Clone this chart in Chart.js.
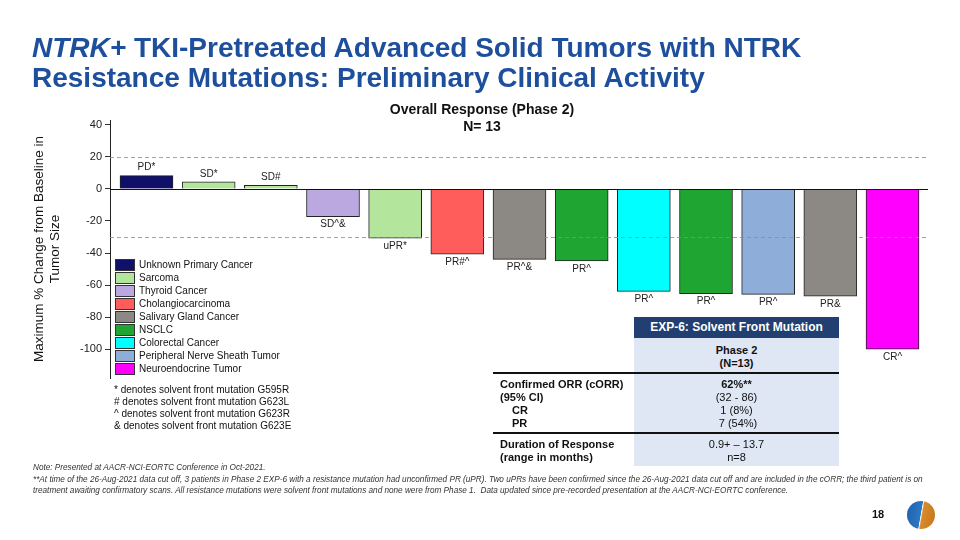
<!DOCTYPE html>
<html>
<head>
<meta charset="utf-8">
<script src="https://cdn.jsdelivr.net/npm/chart.js@4.4.1/dist/chart.umd.min.js"></script>
<style>
  body { margin: 0; background: #fff; }
  #wrap { position: relative; width: 960px; height: 540px; overflow: hidden; font-family: "Liberation Sans", Arial, sans-serif; color: #111; }
  #myChart { position: absolute; left: 0; top: 0; }
  .t { position: absolute; white-space: nowrap; }
  .title { left: 32px; font-size: 28px; font-weight: bold; color: #1d4f9c; line-height: 30px; }
  .sub { left: 0; width: 964px; text-align: center; font-size: 14px; font-weight: bold; line-height: 16px; }
  .foot { left: 114px; font-size: 10px; line-height: 12px; color: #111; }
  .tb { font-size: 11px; line-height: 13px; }
  .b { font-weight: bold; }
  .c { text-align: center; width: 205px; left: 634px; }
  .note { left: 33px; font-size: 8.2px; font-style: italic; line-height: 11px; color: #333; }
</style>
</head>
<body>
<div id="wrap">
  <canvas id="myChart" width="960" height="540"></canvas>

  <div class="t title" style="top:33px"><i>NTRK+</i> TKI-Pretreated Advanced Solid Tumors with NTRK</div>
  <div class="t title" style="top:63px">Resistance Mutations: Preliminary Clinical Activity</div>

  <div class="t sub" style="top:101px">Overall Response (Phase 2)</div>
  <div class="t sub" style="top:118px">N= 13</div>

  <div class="t foot" style="top:384px">* denotes solvent front mutation G595R</div>
  <div class="t foot" style="top:396px"># denotes solvent front mutation G623L</div>
  <div class="t foot" style="top:408px">^ denotes solvent front mutation G623R</div>
  <div class="t foot" style="top:420px">&amp; denotes solvent front mutation G623E</div>

  <!-- tabelle EXP-6 -->
  <div style="position:absolute;left:634px;top:317px;width:205px;height:21px;background:#213f70;"></div>
  <div class="t c b" style="top:320px;color:#fff;font-size:12px;line-height:15px;">EXP-6: Solvent Front Mutation</div>
  <div style="position:absolute;left:634px;top:338px;width:205px;height:128px;background:#dfe7f5;"></div>
  <div class="t c b tb" style="top:344px">Phase 2</div>
  <div class="t c b tb" style="top:357px">(N=13)</div>
  <div style="position:absolute;left:493px;top:372px;width:346px;height:1.5px;background:#111;"></div>
  <div class="t tb b" style="left:500px;top:378px">Confirmed ORR (cORR)</div>
  <div class="t tb b" style="left:500px;top:391px">(95% CI)</div>
  <div class="t tb b" style="left:512px;top:404px">CR</div>
  <div class="t tb b" style="left:512px;top:417px">PR</div>
  <div class="t c tb b" style="top:378px">62%**</div>
  <div class="t c tb" style="top:391px">(32 - 86)</div>
  <div class="t c tb" style="top:404px">1 (8%)</div>
  <div class="t c tb" style="top:417px">&nbsp;7 (54%)</div>
  <div style="position:absolute;left:493px;top:432px;width:346px;height:1.5px;background:#111;"></div>
  <div class="t tb b" style="left:500px;top:438px">Duration of Response</div>
  <div class="t tb b" style="left:500px;top:451px">(range in months)</div>
  <div class="t c tb" style="top:438px">0.9+ – 13.7</div>
  <div class="t c tb" style="top:451px">n=8</div>

  <div class="t note" style="top:462px">Note: Presented at AACR-NCI-EORTC Conference in Oct-2021.</div>
  <div class="t note" style="top:474px">**At time of the 26-Aug-2021 data cut off, 3 patients in Phase 2 EXP-6 with a resistance mutation had unconfirmed PR (uPR). Two uPRs have been confirmed since the 26-Aug-2021 data cut off and are included in the cORR; the third patient is on</div>
  <div class="t note" style="top:485px">treatment awaiting confirmatory scans. All resistance mutations were solvent front mutations and none were from Phase 1.&nbsp; Data updated since pre-recorded presentation at the AACR-NCI-EORTC conference.</div>

  <div class="t b" style="left:872px;top:507px;font-size:11px;line-height:14px;">18</div>
  <div style="position:absolute;left:907px;top:501px;width:28px;height:28px;border-radius:50%;background:linear-gradient(100deg,#1f5fae 0%,#2b78c4 48%,#fff 50%,#d98a2b 54%,#c4761c 100%);"></div>
</div>

<script>
// tumor types (legende)
var tumorTypes = ['Unknown Primary Cancer', 'Sarcoma', 'Thyroid Cancer', 'Cholangiocarcinoma', 'Salivary Gland Cancer', 'NSCLC', 'Colorectal Cancer', 'Peripheral Nerve Sheath Tumor', 'Neuroendocrine Tumor'];
var tumorColors = ['#10106b', '#b3e59c', '#bca8e0', '#ff5c5c', '#8c8884', '#1ea532', '#00ffff', '#8fadd9', '#ff00ff'];

// one value per patient
var patientTumor = [0, 1, 1, 2, 1, 3, 4, 5, 6, 5, 7, 4, 8];
var changePct = [8.3, 4.4, 2.3, -17.3, -30.8, -40.8, -44, -45, -63.9, -65.4, -65.8, -67, -100];
var responses = ['PD*', 'SD*', 'SD#', 'SD^&', 'uPR*', 'PR#^', 'PR^&', 'PR^', 'PR^', 'PR^', 'PR^', 'PR&', 'CR^'];

var yTicks = [40, 20, 0, -20, -40, -60, -80, -100];
var refLines = [20, -30];

var FONT = '"Liberation Sans", Arial, sans-serif';

// zero line + dashed lines
var linesPlugin = {
  id: 'lines',
  afterDatasetsDraw: function(chart) {
    var c = chart.ctx, y = chart.scales.y, a = chart.chartArea;
    c.save();
    c.strokeStyle = 'rgba(140,140,140,0.8)';
    c.lineWidth = 1;
    c.setLineDash([4, 3]);
    refLines.forEach(function(v) {
      var py = Math.round(y.getPixelForValue(v)) + 0.5;
      c.beginPath(); c.moveTo(a.left, py); c.lineTo(a.right, py); c.stroke();
    });
    c.setLineDash([]);
    c.strokeStyle = '#111';
    var p0 = Math.round(y.getPixelForValue(0)) + 0.5;
    c.beginPath(); c.moveTo(a.left, p0); c.lineTo(a.right, p0); c.stroke();
    c.restore();
  }
};

// response labels on bars
var labelPlugin = {
  id: 'barLabels',
  afterDatasetsDraw: function(chart) {
    var c = chart.ctx;
    var meta = chart.getDatasetMeta(0);
    c.save();
    c.font = '10px ' + FONT;
    c.fillStyle = '#222';
    c.textAlign = 'center';
    c.textBaseline = 'middle';
    meta.data.forEach(function(bar, i) {
      var off = changePct[i] >= 0 ? -8 : 8;
      c.fillText(responses[i], bar.x, bar.y + off);
    });
    c.restore();
  }
};

// legende
var legendPlugin = {
  id: 'tumorLegend',
  afterDraw: function(chart) {
    var c = chart.ctx;
    c.save();
    c.font = '10px ' + FONT;
    c.textBaseline = 'middle';
    tumorTypes.forEach(function(name, i) {
      var cy = 265 + i * 13;
      c.fillStyle = tumorColors[i];
      c.fillRect(115, cy - 6, 20, 12);
      c.strokeStyle = '#333';
      c.lineWidth = 1;
      c.strokeRect(115.5, cy - 5.5, 19, 11);
      c.fillStyle = '#111';
      c.fillText(name, 139, cy);
    });
    c.restore();
  }
};

var myChart = new Chart('myChart', {
  type: 'bar',
  data: {
    datasets: [{
      data: changePct.map(function(v, i) { return { x: i + 1, y: v }; }),
      backgroundColor: patientTumor.map(function(k) { return tumorColors[k]; }),
      borderColor: '#222',
      borderWidth: 1,
      barThickness: 53
    }]
  },
  options: {
    responsive: false,
    animation: false,
    devicePixelRatio: 1,
    layout: { padding: { left: 28, right: 32, top: 120, bottom: 162 } },
    plugins: { legend: { display: false }, tooltip: { enabled: false }, title: { display: false } },
    scales: {
      x: { type: 'linear', min: 0.413, max: 13.571, offset: false, bounds: 'data', display: false, grid: { offset: false } },
      y: {
        min: -118,
        max: 43,
        afterBuildTicks: function(s) { s.ticks = yTicks.map(function(v) { return { value: v }; }); },
        afterFit: function(s) { s.width = 82; },
        grid: { drawOnChartArea: false, drawTicks: true, tickLength: 5, color: '#333' },
        border: { display: true, color: '#222' },
        ticks: { font: { family: FONT, size: 11 }, color: '#222', padding: 3 },
        title: {
          display: true,
          text: ['Maximum % Change from Baseline in', 'Tumor Size'],
          font: { family: FONT, size: 13.5 },
          color: '#111',
          padding: { top: 3, bottom: 0 }
        }
      }
    }
  },
  plugins: [linesPlugin, labelPlugin, legendPlugin]
});
</script>
</body>
</html>
